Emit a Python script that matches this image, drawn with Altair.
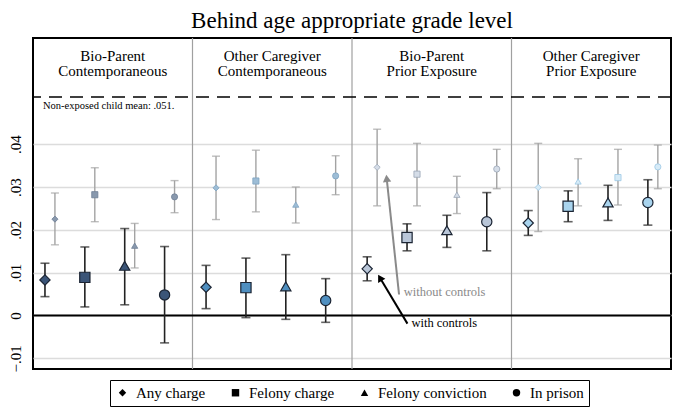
import altair as alt
import pandas as pd

# ---------------- data ----------------
panel_line1 = ["Bio-Parent", "Other Caregiver", "Bio-Parent", "Other Caregiver"]
panel_line2 = ["Contemporaneous", "Contemporaneous", "Prior Exposure", "Prior Exposure"]
categories = ["Any charge", "Felony charge", "Felony conviction", "In prison"]
shapes = ["diamond", "square", "triangle-up", "circle"]

# with controls (estimate, lower, upper) per panel, per category
ctrl_est = [[0.0083, 0.0089, 0.0116, 0.0048],
            [0.0066, 0.0065, 0.0068, 0.0035],
            [0.0109, 0.0182, 0.0199, 0.0219],
            [0.0216, 0.0255, 0.0264, 0.0264]]
ctrl_lo = [[0.0044, 0.0020, 0.0025, -0.0064],
           [0.0016, -0.0005, -0.0009, -0.0016],
           [0.0081, 0.0151, 0.0159, 0.0151],
           [0.0187, 0.0219, 0.0222, 0.0211]]
ctrl_hi = [[0.0122, 0.0160, 0.0203, 0.0161],
           [0.0117, 0.0134, 0.0142, 0.0086],
           [0.0137, 0.0214, 0.0234, 0.0287],
           [0.0245, 0.0291, 0.0304, 0.0317]]

# without controls
nc_est = [[0.0225, 0.0282, 0.0163, 0.0277],
          [0.0298, 0.0314, 0.0259, 0.0326],
          [0.0346, 0.0330, 0.0282, 0.0342],
          [0.0299, 0.0322, 0.0313, 0.0347]]
nc_lo = [[0.0165, 0.0219, 0.0111, 0.0240],
         [0.0224, 0.0242, 0.0216, 0.0282],
         [0.0256, 0.0256, 0.0238, 0.0296],
         [0.0196, 0.0258, 0.0256, 0.0296]]
nc_hi = [[0.0286, 0.0345, 0.0215, 0.0315],
         [0.0372, 0.0386, 0.0300, 0.0373],
         [0.0435, 0.0402, 0.0325, 0.0388],
         [0.0402, 0.0388, 0.0366, 0.0398]]
# slot order of the "without controls" markers within each panel
nc_slot = [[0, 1, 2, 3], [0, 1, 2, 3], [0, 1, 2, 3], [0, 2, 1, 3]]

ctrl_colors = ["#3b5578", "#4f8fc0", "#b9c6d8", "#a9d4ee"]
nc_colors = ["#8898ad", "#9dbdd6", "#d5dde8", "#d7ebf7"]
nc_strokes = ["#6f7f95", "#7fa3c0", "#9aa6b6", "#9cc8e4"]

nonexposed_mean = 0.051
y_ticks = [-0.01, 0.0, 0.01, 0.02, 0.03, 0.04]

# annotation arrows: tail (x, y) -> head (x, y)
arrow_labels = ["without controls", "with controls"]
arrow_tail_x = [9.18, 9.39]
arrow_tail_y = [0.0049, -0.0019]
arrow_head_x = [8.87, 8.70]
arrow_head_y = [0.0320, 0.0088]
arrow_text_x = [9.30, 9.49]
arrow_text_y = [0.0054, -0.0018]
arrow_angle = [354, 330]
arrow_colors = ["#8a8a8a", "#000000"]

# ---------------- build tables ----------------
rows = []
for p in range(4):
    off = 0.30 + 0.04 * p
    for c in range(4):
        rows.append(dict(kind="ctrl", key=f"c{p}", cat=categories[c],
                         x=p * 4 + c + off, est=ctrl_est[p][c],
                         lo=ctrl_lo[p][c], hi=ctrl_hi[p][c]))
        rows.append(dict(kind="nc", key=f"n{p}", cat=categories[c],
                         x=p * 4 + nc_slot[p][c] + off + 0.25, est=nc_est[p][c],
                         lo=nc_lo[p][c], hi=nc_hi[p][c]))
df = pd.DataFrame(rows)
ctrl = df[df.kind == "ctrl"]
nc = df[df.kind == "nc"]

fill_scale = alt.Scale(domain=[f"c{p}" for p in range(4)] + [f"n{p}" for p in range(4)],
                       range=ctrl_colors + nc_colors)
stroke_scale = alt.Scale(domain=[f"c{p}" for p in range(4)] + [f"n{p}" for p in range(4)],
                         range=["#1b2433"] * 4 + nc_strokes)
shape_scale = alt.Scale(domain=categories, range=shapes)

X = lambda f: alt.X(f, type="quantitative", scale=alt.Scale(domain=[0, 16], nice=False, zero=False), axis=None)
Y = lambda f: alt.Y(f, type="quantitative",
                    scale=alt.Scale(domain=[-0.0125, 0.0648], nice=False, zero=False),
                    axis=alt.Axis(values=y_ticks, title=None, domain=False, ticks=False,
                                  labelAngle=270, labelAlign="center", labelBaseline="bottom",
                                  labelPadding=10, labelFont="Liberation Serif", labelFontSize=15,
                                  labelColor="black", gridColor="#dcdcdc", gridWidth=1.5,
                                  labelExpr="datum.value == 0 ? '0' : replace(format(datum.value, '.2f'), '0.', '.')"))

base_grid = alt.Chart(pd.DataFrame({"y": y_ticks})).mark_rule(opacity=0).encode(y=Y("y"))

sep = alt.Chart(pd.DataFrame({"x": [4, 8, 12]})).mark_rule(color="#a0a0a0", strokeWidth=1.2).encode(x=X("x"))
dash = alt.Chart(pd.DataFrame({"y": [nonexposed_mean]})).mark_rule(
    color="black", strokeWidth=1.5, strokeDash=[13, 8]).encode(y=alt.Y("y:Q"))
zero = alt.Chart(pd.DataFrame({"y": [0.0]})).mark_rule(color="black", strokeWidth=2).encode(y=alt.Y("y:Q"))

nc_bar = alt.Chart(nc).mark_rule(color="#a3a3a3", strokeWidth=1.4).encode(x=X("x"), y=alt.Y("lo:Q"), y2="hi")
nc_cap_lo = alt.Chart(nc).mark_tick(orient="horizontal", size=8, thickness=1.4, color="#a3a3a3").encode(x=X("x"), y=alt.Y("lo:Q"))
nc_cap_hi = alt.Chart(nc).mark_tick(orient="horizontal", size=8, thickness=1.4, color="#a3a3a3").encode(x=X("x"), y=alt.Y("hi:Q"))
nc_pt = alt.Chart(nc).mark_point(filled=True, size=38, strokeWidth=0.8, opacity=1).encode(
    x=X("x"), y=alt.Y("est:Q"),
    fill=alt.Fill("key:N", scale=fill_scale, legend=None),
    stroke=alt.Stroke("key:N", scale=stroke_scale, legend=None),
    shape=alt.Shape("cat:N", scale=shape_scale,
                    legend=alt.Legend(orient="none", legendX=77, legendY=342, direction="horizontal",
                                      title=None, strokeColor="black", padding=5, fillColor="white",
                                      labelFont="Liberation Serif", labelFontSize=15, labelColor="black",
                                      symbolFillColor="black", symbolStrokeColor="black", symbolSize=55,
                                      symbolStrokeWidth=0, columnPadding=22, labelOffset=6)))

ctrl_bar = alt.Chart(ctrl).mark_rule(color="#222222", strokeWidth=1.6).encode(x=X("x"), y=alt.Y("lo:Q"), y2="hi")
ctrl_cap_lo = alt.Chart(ctrl).mark_tick(orient="horizontal", size=9, thickness=1.6, color="#222222").encode(x=X("x"), y=alt.Y("lo:Q"))
ctrl_cap_hi = alt.Chart(ctrl).mark_tick(orient="horizontal", size=9, thickness=1.6, color="#222222").encode(x=X("x"), y=alt.Y("hi:Q"))
ctrl_pt = alt.Chart(ctrl).mark_point(filled=True, size=105, strokeWidth=1.2, opacity=1).encode(
    x=X("x"), y=alt.Y("est:Q"),
    fill=alt.Fill("key:N", scale=fill_scale, legend=None),
    stroke=alt.Stroke("key:N", scale=stroke_scale, legend=None),
    shape=alt.Shape("cat:N", scale=shape_scale))

adf = pd.DataFrame(dict(label=arrow_labels, tx=arrow_tail_x, ty=arrow_tail_y, hx=arrow_head_x,
                        hy=arrow_head_y, lx=arrow_text_x, ly=arrow_text_y, ang=arrow_angle,
                        col=arrow_colors))
arr_line = alt.Chart(adf).mark_rule(strokeWidth=2).encode(
    x=X("tx"), y=alt.Y("ty:Q"), x2="hx", y2="hy", color=alt.Color("col:N", scale=None))
arr_head = alt.Chart(adf).mark_point(shape="triangle-up", filled=True, size=70, opacity=1).encode(
    x=X("hx"), y=alt.Y("hy:Q"), angle=alt.Angle("ang:Q", scale=None),
    fill=alt.Fill("col:N", scale=None), stroke=alt.value(None))
arr_text = alt.Chart(adf).mark_text(align="left", baseline="middle", font="Liberation Serif", fontSize=12.5).encode(
    x=X("lx"), y=alt.Y("ly:Q"), text="label:N", color=alt.Color("col:N", scale=None))

hdf = pd.DataFrame(dict(x=[2 + 4 * p for p in range(4)], l1=panel_line1, l2=panel_line2,
                        y1=[0.0605] * 4, y2=[0.0571] * 4))
head1 = alt.Chart(hdf).mark_text(font="Liberation Serif", fontSize=15, color="black", baseline="middle").encode(
    x=X("x"), y=alt.Y("y1:Q"), text="l1:N")
head2 = alt.Chart(hdf).mark_text(font="Liberation Serif", fontSize=15, color="black", baseline="middle").encode(
    x=X("x"), y=alt.Y("y2:Q"), text="l2:N")

note = alt.Chart(pd.DataFrame(dict(x=[0.25], y=[0.0490], t=[f"Non-exposed child mean: .{int(round(nonexposed_mean*1000)):03d}."]))).mark_text(
    font="Liberation Serif", fontSize=10.5, color="black", align="left", baseline="middle").encode(
    x=X("x"), y=alt.Y("y:Q"), text="t:N")

chart = alt.layer(base_grid, sep, dash, zero, nc_bar, nc_cap_lo, nc_cap_hi, nc_pt,
                  ctrl_bar, ctrl_cap_lo, ctrl_cap_hi, ctrl_pt, arr_line, arr_head, arr_text,
                  head1, head2, note).resolve_scale(fill="shared", stroke="shared").properties(
    width=638, height=331,
    autosize=alt.AutoSizeParams(type="none"),
    padding={"left": 25, "top": 30, "right": 1, "bottom": 45},
    title=alt.Title("Behind age appropriate grade level", font="Liberation Serif", fontSize=23,
                    fontWeight="normal", color="black", anchor="middle", offset=4),
).configure_view(stroke="black", strokeWidth=2).configure_axis(grid=True)

chart.save("out.html", embed_options={"renderer": "svg", "actions": False})
